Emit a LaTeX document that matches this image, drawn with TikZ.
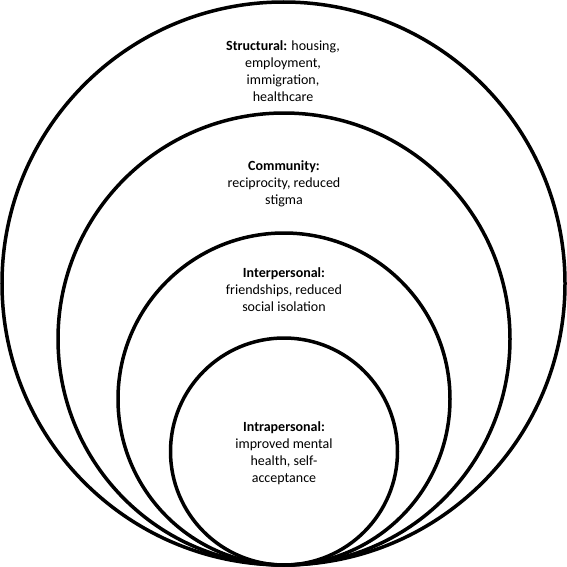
\documentclass[tikz,border=0pt]{standalone}
\usepackage{fontspec}
\setmainfont{Carlito}
\usepackage{tikz}
\usetikzlibrary{shapes}

\tikzset{
  ring/.style={draw,circle,line width=3.5bp,inner sep=0pt},
  level/.style={align=center,font=\fontsize{14bp}{17bp}\selectfont}
}

\begin{document}
\begin{tikzpicture}
\useasboundingbox (0bp,0bp) rectangle (567bp,-567bp);

\node (structural) at (283.5bp,-283.5bp)[ring,minimum size=563bp] {};
\node (community) at (284bp,-339bp)[ring,minimum size=452bp] {};
\node (interpersonal) at (284bp,-399bp)[ring,minimum size=332bp] {};
\node (intrapersonal) at (284bp,-451.5bp)[ring,minimum size=227bp] {};

\node (structuraltext) at (283bp,-71bp)[level] {\textbf{Structural:} housing,\\ employment,\\ immigration,\\ healthcare};
\node (communitytext) at (284bp,-184bp)[level] {\textbf{Community:}\\ reciprocity, reduced\\ stigma};
\node (interpersonaltext) at (284bp,-290bp)[level] {\textbf{Interpersonal:}\\ friendships, reduced\\ social isolation};
\node (intrapersonaltext) at (284bp,-453bp)[level] {\textbf{Intrapersonal:}\\ improved mental\\ health, self-\\ acceptance};
\end{tikzpicture}
\end{document}
